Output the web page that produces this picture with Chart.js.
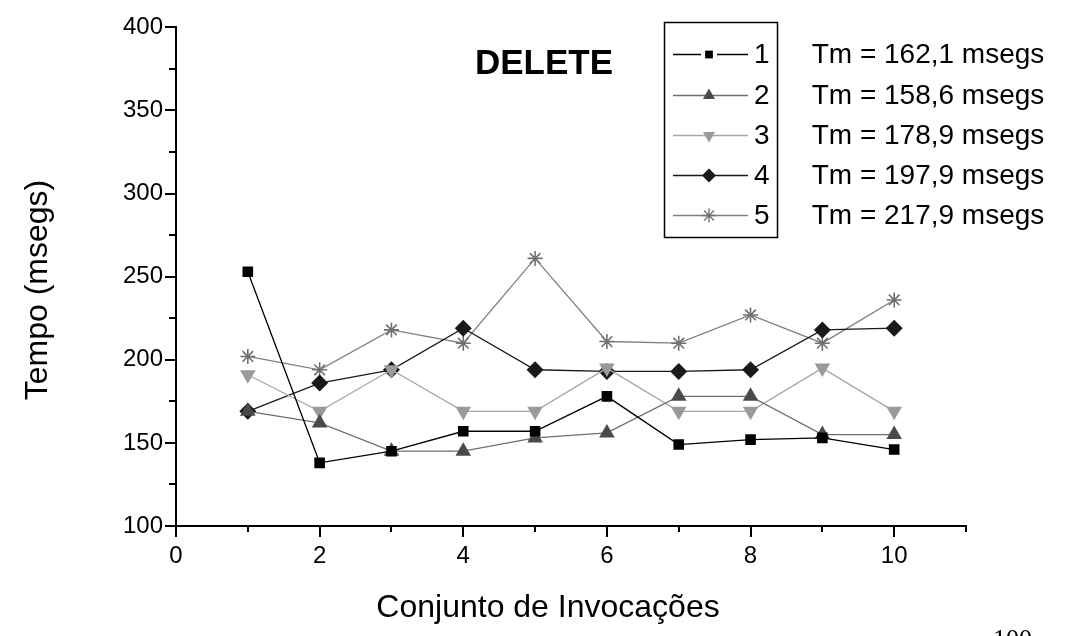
<!DOCTYPE html>
<html lang="pt">
<head>
<meta charset="utf-8">
<title>DELETE</title>
<script src="https://cdn.jsdelivr.net/npm/chart.js@4.4.1/dist/chart.umd.min.js"></script>
<style>
html, body { margin: 0; padding: 0; background: #fff; overflow: hidden; }
#caixa { position: relative; width: 1079px; height: 636px; overflow: hidden; }
#pagina { position: absolute; left: 993px; top: 624px; font-family: 'Liberation Serif', serif; font-size: 26px; color: #000; }
</style>
</head>
<body>
<div id="caixa">
  <canvas id="grafico" width="1079" height="636"></canvas>
  <div id="pagina">100</div>
</div>
<script>
// dados
const invocacoes = [1, 2, 3, 4, 5, 6, 7, 8, 9, 10];
const serie1 = [253, 138, 145, 157, 157, 178, 149, 152, 153, 146];
const serie2 = [169, 162, 145, 145, 153, 156, 178, 178, 155, 155];
const serie3 = [191, 169, 194, 169, 169, 195, 169, 169, 195, 169];
const serie4 = [169, 186, 194, 219, 194, 193, 193, 194, 218, 219];
const serie5 = [202, 194, 218, 210, 261, 211, 210, 227, 210, 236];

const nomesSeries = ['1', '2', '3', '4', '5'];
const mediasTm = ['Tm = 162,1 msegs', 'Tm = 158,6 msegs', 'Tm = 178,9 msegs', 'Tm = 197,9 msegs', 'Tm = 217,9 msegs'];

const rotulosY = [100, 150, 200, 250, 300, 350, 400];
const rotulosX = [0, 2, 4, 6, 8, 10];

const tituloGrafico = 'DELETE';
const tituloX = 'Conjunto de Invocações';
const tituloY = 'Tempo (msegs)';

const fonte = "'Liberation Sans', Arial, sans-serif";
Chart.defaults.font.family = fonte;
Chart.defaults.color = '#000';

function montarPontos(valores) {
    return invocacoes.map((x, i) => ({ x: x, y: valores[i] }));
}

// estilo de cada serie (linha + marcador)
const estilos = [
    { linha: '#000000', marcador: '#000000', forma: 'rect', raio: 7.5, rot: 0 },
    { linha: '#6e6e6e', marcador: '#4a4a4a', forma: 'triangle', raio: 9, rot: 0 },
    { linha: '#a8a8a8', marcador: '#9a9a9a', forma: 'triangle', raio: 9, rot: 180 },
    { linha: '#1a1a1a', marcador: '#1a1a1a', forma: 'rectRot', raio: 8.5, rot: 0 },
    { linha: '#808080', marcador: '#707070', forma: 'star', raio: 7.5, rot: 0 }
];

const todasSeries = [serie1, serie2, serie3, serie4, serie5];

const datasets = todasSeries.map((s, i) => ({
    label: nomesSeries[i],
    data: montarPontos(s),
    borderColor: estilos[i].linha,
    borderWidth: 1.3,
    backgroundColor: estilos[i].marcador,
    pointStyle: estilos[i].forma,
    pointRadius: estilos[i].raio,
    pointRotation: estilos[i].rot,
    pointBackgroundColor: estilos[i].marcador,
    pointBorderColor: estilos[i].forma === 'star' ? estilos[i].marcador : '#ffffff',
    pointBorderWidth: estilos[i].forma === 'star' ? 1.6 : 0,
    tension: 0,
    fill: false
}));

// tracos dos ticks (maiores e menores) desenhados a partir das escalas
const marcasEixos = {
    id: 'marcasEixos',
    afterDraw(chart) {
        const ctx = chart.ctx;
        const sx = chart.scales.x;
        const sy = chart.scales.y;
        const area = chart.chartArea;
        ctx.save();
        ctx.strokeStyle = '#000';
        ctx.lineWidth = 2;
        sy.ticks.forEach(t => {
            const py = Math.round(sy.getPixelForValue(t.value));
            const tam = rotulosY.includes(t.value) ? 11 : 7;
            ctx.beginPath();
            ctx.moveTo(area.left, py);
            ctx.lineTo(area.left - tam, py);
            ctx.stroke();
        });
        sx.ticks.forEach(t => {
            const px = Math.round(sx.getPixelForValue(t.value));
            const tam = rotulosX.includes(t.value) ? 11 : 6;
            ctx.beginPath();
            ctx.moveTo(px, area.bottom);
            ctx.lineTo(px, area.bottom + tam);
            ctx.stroke();
        });
        ctx.restore();
    }
};

// titulos e legenda com a caixa
const textosLegenda = {
    id: 'textosLegenda',
    afterDraw(chart) {
        const ctx = chart.ctx;
        ctx.save();
        ctx.fillStyle = '#000';

        ctx.font = 'bold 35px ' + fonte;
        ctx.textAlign = 'center';
        ctx.textBaseline = 'alphabetic';
        ctx.fillText(tituloGrafico, 544, 74);

        ctx.font = '32px ' + fonte;
        ctx.fillText(tituloX, 548, 617);

        ctx.save();
        ctx.translate(47, 290);
        ctx.rotate(-Math.PI / 2);
        ctx.fillText(tituloY, 0, 0);
        ctx.restore();

        // caixa da legenda
        ctx.strokeStyle = '#000';
        ctx.lineWidth = 1.5;
        ctx.strokeRect(664.5, 22.5, 113, 215);

        const linhasY = [54, 95, 135, 175, 215];
        chart.data.datasets.forEach((ds, i) => {
            const y = linhasY[i] + 0.5;
            ctx.strokeStyle = ds.borderColor;
            ctx.lineWidth = 1.3;
            ctx.beginPath();
            ctx.moveTo(673, y);
            ctx.lineTo(748, y);
            ctx.stroke();

            if (ds.pointStyle === 'rect') {
                ctx.fillStyle = '#fff';
                ctx.fillRect(701, y - 6, 16, 12);
            }
            ctx.fillStyle = ds.pointBackgroundColor;
            ctx.strokeStyle = ds.pointBorderColor;
            Chart.helpers.drawPoint(ctx, {
                pointStyle: ds.pointStyle,
                rotation: ds.pointRotation,
                radius: ds.pointStyle === 'rect' ? 5.5 : 7,
                borderWidth: ds.pointBorderWidth
            }, 709, y);

            ctx.fillStyle = '#000';
            ctx.font = '28px ' + fonte;
            ctx.textAlign = 'left';
            ctx.textBaseline = 'middle';
            ctx.fillText(ds.label, 754, y + 1);

            ctx.font = '28px ' + fonte;
            ctx.textAlign = 'center';
            ctx.fillText(mediasTm[i], 928, y + 1);
        });
        ctx.restore();
    }
};

new Chart(document.getElementById('grafico'), {
    type: 'line',
    data: { datasets: datasets },
    options: {
        responsive: false,
        animation: false,
        layout: { padding: { top: 27, right: 113, left: 0, bottom: 0 } },
        plugins: {
            legend: { display: false },
            tooltip: { enabled: false }
        },
        scales: {
            x: {
                type: 'linear',
                min: 0,
                max: 11,
                afterFit: (s) => { s.height = 110; },
                ticks: {
                    stepSize: 1,
                    padding: 16,
                    font: { size: 24 },
                    color: '#000',
                    maxRotation: 0,
                    autoSkip: false,
                    callback: (v) => rotulosX.includes(v) ? String(v) : ''
                },
                grid: { display: false, drawTicks: false },
                border: { display: true, color: '#000', width: 2 }
            },
            y: {
                min: 100,
                max: 400,
                afterFit: (s) => { s.width = 176; },
                ticks: {
                    stepSize: 25,
                    padding: 13,
                    font: { size: 24 },
                    color: '#000',
                    autoSkip: false,
                    callback: (v) => rotulosY.includes(v) ? String(v) : ''
                },
                grid: { display: false, drawTicks: false },
                border: { display: true, color: '#000', width: 2 }
            }
        }
    },
    plugins: [marcasEixos, textosLegenda]
});
</script>
</body>
</html>
